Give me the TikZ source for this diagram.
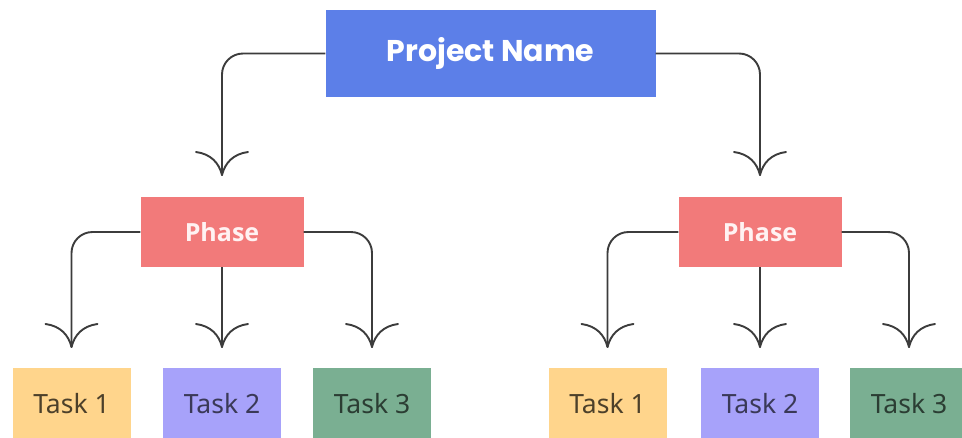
\documentclass[tikz,border=0pt]{standalone}
\usepackage{fontspec}
\setmainfont{Poppins}
\newfontfamily\titlefont{Poppins}
\newfontfamily\phasefont{Open Sans}
\newfontfamily\taskfont{Noto Sans}
\definecolor{projblue}{HTML}{5C7FE8}
\definecolor{phasered}{HTML}{F27A7A}
\definecolor{taskyellow}{HTML}{FFD58C}
\definecolor{taskviolet}{HTML}{A7A2FA}
\definecolor{taskgreen}{HTML}{7AAF92}
\definecolor{linegray}{HTML}{3C3C3C}
\tikzset{
  conn/.style={draw=linegray, line width=1.9pt, rounded corners=21pt},
  barbline/.style={draw=linegray, line width=1.9pt, line cap=round},
  barb/.pic={
    \draw[barbline] (0,0) .. controls (-3,-12) and (-11,-21) .. (-26,-23);
    \draw[barbline] (0,0) .. controls (3,-12) and (11,-21) .. (26,-23);
  },
  projbox/.style={fill=projblue, minimum width=330pt, minimum height=87pt,
    text=white, font=\titlefont\bfseries\fontsize{30}{33}\selectfont},
  phasebox/.style={fill=phasered, minimum width=163pt, minimum height=70pt,
    text=white!95!red, font=\phasefont\bfseries\fontsize{25}{28}\selectfont},
  taskbox/.style={minimum width=118pt, minimum height=70pt, anchor=north,
    font=\taskfont\fontsize{26.5}{29}\selectfont},
}
\begin{document}
\begin{tikzpicture}[x=1pt, y=-1pt]
\clip (0,0) rectangle (962,437);
\fill[white] (0,0) rectangle (962,437);

% top level
\node[projbox] (proj) at (490.5,53.5) {\raisebox{-3pt}{Project Name}};

% phases
\node[phasebox] (phL) at (222,232) {\raisebox{-1pt}{Phase}};
\node[phasebox] (phR) at (760,232) {\raisebox{-1pt}{Phase}};

% tasks
\node[taskbox, fill=taskyellow, text=taskyellow!30!black] (tL1) at (71.5,368) {Task 1};
\node[taskbox, fill=taskviolet, text=taskviolet!35!black] (tL2) at (222,368) {Task 2};
\node[taskbox, fill=taskgreen, text=taskgreen!35!black] (tL3) at (372,368) {Task 3};
\node[taskbox, fill=taskyellow, text=taskyellow!30!black] (tR1) at (607.5,368) {Task 1};
\node[taskbox, fill=taskviolet, text=taskviolet!35!black] (tR2) at (760,368) {Task 2};
\node[taskbox, fill=taskgreen, text=taskgreen!35!black] (tR3) at (909,368) {Task 3};

% arrow tips
\coordinate (aPL) at (222,175);
\coordinate (aPR) at (760,175);
\coordinate (aL1) at (71.5,347);
\coordinate (aL2) at (222,347);
\coordinate (aL3) at (372,347);
\coordinate (aR1) at (607.5,347);
\coordinate (aR2) at (760,347);
\coordinate (aR3) at (909,347);

% connectors
\draw[conn] (proj.west) -| (aPL);
\draw[conn] (proj.east) -| (aPR);
\draw[conn] (phL.west) -| (aL1);
\draw[conn] (phL.south) -- (aL2);
\draw[conn] (phL.east) -| (aL3);
\draw[conn] (phR.west) -| (aR1);
\draw[conn] (phR.south) -- (aR2);
\draw[conn] (phR.east) -| (aR3);

% open curved arrowheads
\foreach \t in {aPL,aPR,aL1,aL2,aL3,aR1,aR2,aR3}
  \pic at (\t) {barb};
\end{tikzpicture}
\end{document}
